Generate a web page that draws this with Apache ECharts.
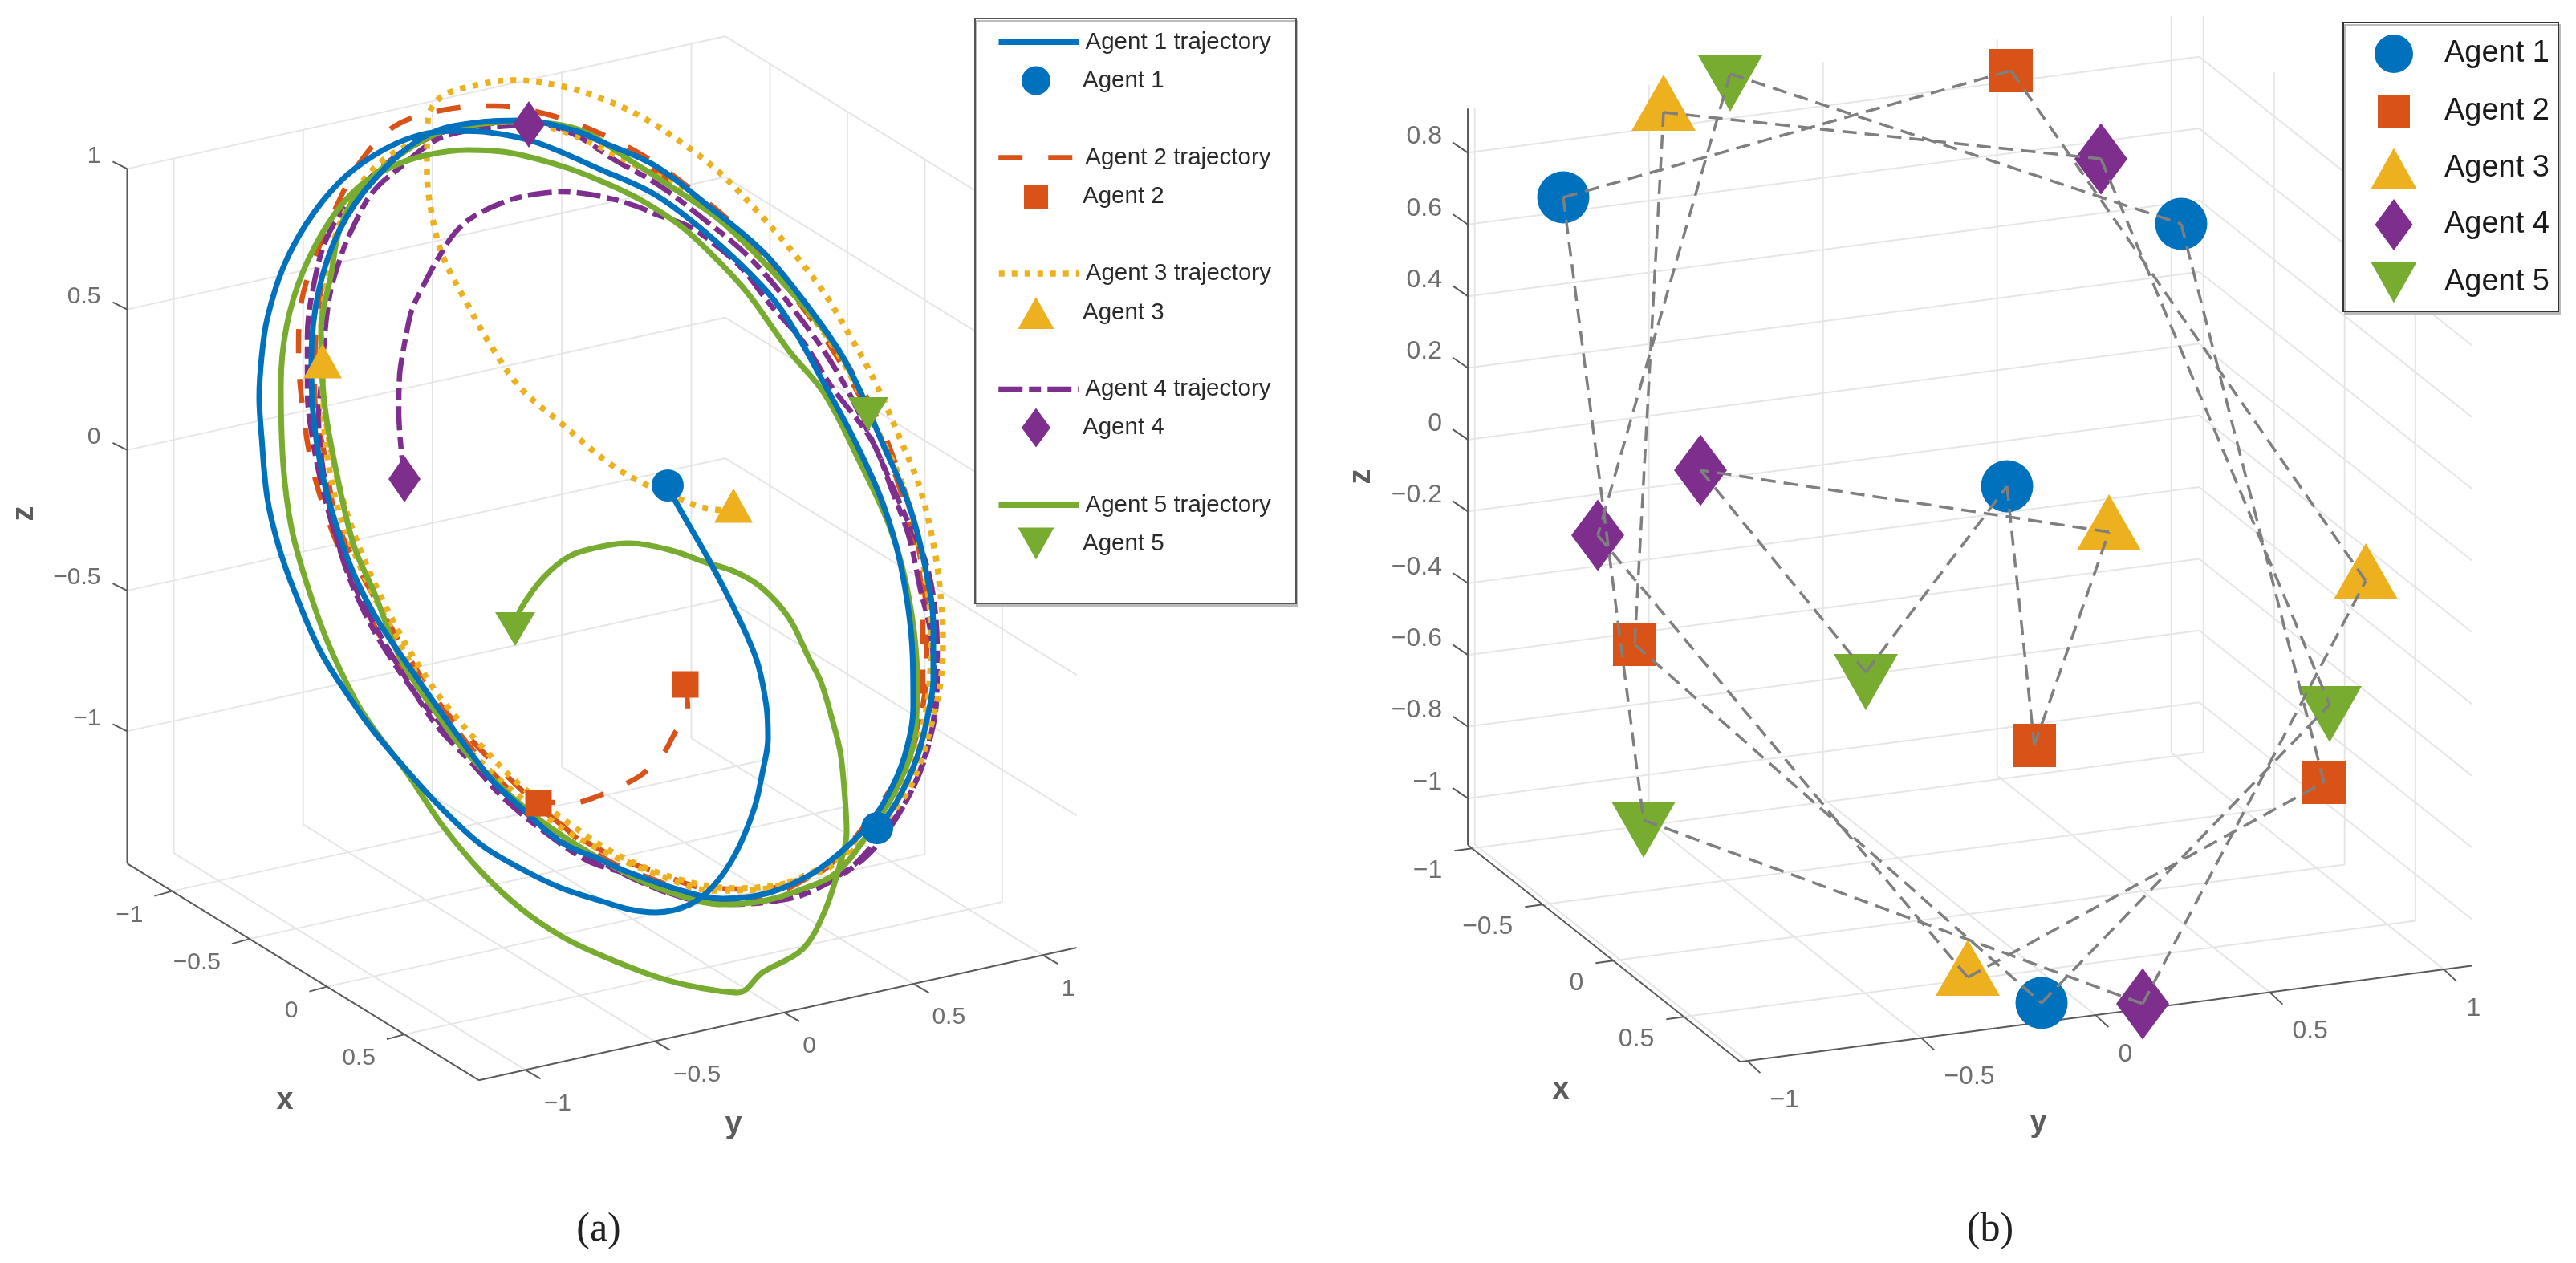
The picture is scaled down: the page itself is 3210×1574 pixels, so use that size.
<!DOCTYPE html>
<html><head><meta charset="utf-8">
<style>html,body{margin:0;padding:0;background:#fff}#c{width:3210px;height:1574px}</style>
<script src="https://cdn.jsdelivr.net/npm/echarts@6/dist/echarts.min.js"></script>
</head><body><div id="c"></div>
<script>
// Trajectories of panel (a) in view-plane units (350 units = one z-axis unit)
const agent1Path=[[44,25],[55,3],[95,-67],[129,-133],[155,-193],[167,-250],[169,-290],[162,-333],[152,-377],[129,-433],[102,-473],[72,-497],[29,-507],[-5,-503],[-38,-493],[-88,-477],[-138,-453],[-188,-423],[-238,-377],[-281,-330],[-321,-283],[-345,-250],[-388,-183],[-421,-107],[-441,-50],[-455,10],[-462,85],[-465,135],[-462,185],[-455,233],[-435,297],[-405,353],[-365,403],[-321,437],[-271,460],[-221,467],[-178,465],[-121,453],[-38,418],[29,387],[95,337],[162,273],[195,230],[239,152],[279,77],[312,3],[335,-77],[349,-183],[350,-250],[339,-313],[319,-360],[295,-397],[262,-430],[222,-460],[169,-483],[112,-490],[62,-480],[-5,-457],[-38,-442],[-88,-420],[-138,-377],[-181,-335],[-288,-187],[-321,-137],[-345,-90],[-365,-37],[-385,33],[-398,117],[-400,183],[-391,267],[-365,343],[-321,407],[-255,462],[-188,478],[-138,480],[-71,467],[-38,453],[29,423],[95,373],[162,317],[212,257],[255,197],[279,153],[312,77],[345,0],[365,-77],[375,-150],[375,-217],[370,-253],[355,-313],[329,-370],[305,-402]];
const agent2Path=[[66,-223],[69,-253],[51,-287],[38,-310],[12,-335],[-15,-350],[-45,-363],[-71,-370],[-108,-370],[-145,-360],[-188,-317],[-228,-270],[-261,-237],[-305,-178],[-333,-127],[-360,-67],[-383,-7],[-400,53],[-411,123],[-416,190],[-413,250],[-395,310],[-370,370],[-340,427],[-296,473],[-235,493],[-171,498],[-108,488],[-48,467],[12,437],[72,395],[142,335],[202,265],[252,200],[297,125],[327,55],[352,-30],[364,-105],[367,-185],[362,-250],[345,-313],[307,-375],[272,-420],[229,-460],[155,-478],[95,-477],[29,-457],[-38,-430],[-95,-393],[-148,-345],[-198,-295],[-238,-250],[-278,-190],[-335,-90],[-368,-20],[-383,60],[-396,140],[-393,230],[-380,300],[-348,380],[-298,430],[-248,460],[-168,478],[-68,465],[2,430],[72,390],[142,330],[202,260],[252,190],[297,110],[327,40],[352,-50],[362,-140],[362,-230],[342,-315],[307,-380],[272,-422],[222,-462],[155,-488],[95,-488],[29,-467],[-38,-438],[-95,-392],[-117,-371]];
const agent3Path=[[126,-7],[90,-3],[59,8],[15,27],[-28,52],[-88,102],[-138,145],[-175,197],[-205,250],[-235,308],[-248,353],[-256,417],[-255,480],[-241,507],[-211,520],[-148,530],[-85,522],[-38,507],[7,487],[62,452],[112,412],[157,365],[199,317],[239,265],[272,210],[302,155],[335,80],[359,20],[377,-58],[385,-123],[387,-170],[384,-220],[374,-267],[359,-320],[339,-363],[300,-407],[252,-447],[195,-470],[129,-477],[62,-467],[-5,-442],[-55,-413],[-138,-350],[-188,-300],[-231,-250],[-251,-223],[-288,-163],[-321,-97],[-345,-40],[-365,23],[-381,100],[-386,147],[-388,217],[-381,277],[-371,333],[-345,390],[-315,427],[-271,453],[-228,470],[-155,478],[-88,467],[2,425],[72,387],[142,325],[212,250],[262,180],[302,100],[337,25],[362,-70],[372,-160],[367,-250],[347,-320],[317,-380],[277,-425],[222,-458],[162,-478],[102,-480],[32,-460],[-38,-430],[-98,-395],[-178,-330],[-238,-263],[-288,-175],[-321,-115],[-348,-55],[-368,0],[-383,85],[-386,173]];
const agent4Path=[[-284,33],[-291,117],[-290,163],[-286,190],[-281,217],[-275,243],[-261,273],[-241,310],[-221,340],[-198,360],[-155,380],[-121,388],[-88,391],[-38,385],[5,373],[29,363],[72,347],[107,322],[137,295],[172,250],[212,205],[247,150],[299,80],[322,23],[345,-40],[359,-105],[372,-160],[377,-240],[367,-307],[342,-367],[305,-423],[272,-453],[225,-480],[195,-490],[129,-497],[45,-483],[-5,-460],[-55,-443],[-105,-410],[-158,-367],[-201,-320],[-245,-273],[-281,-217],[-315,-160],[-345,-103],[-368,-43],[-385,17],[-398,80],[-405,143],[-405,210],[-398,270],[-381,333],[-348,385],[-308,425],[-258,458],[-198,473],[-138,478],[-78,465],[-21,430],[32,400],[85,360],[145,310],[202,243],[255,167],[297,85],[339,-10],[362,-60],[375,-113],[380,-183],[379,-243],[362,-320],[337,-375],[302,-420],[267,-455],[222,-475],[162,-493],[102,-495],[32,-478],[-38,-445],[-105,-405],[-158,-360],[-213,-300],[-258,-250],[-298,-195],[-333,-135],[-363,-60],[-383,30],[-391,110],[-388,150],[-378,257],[-361,317],[-348,347],[-331,380],[-315,400],[-291,420],[-258,447],[-235,460],[-188,470],[-155,473],[-129,475]];
const agent5Path=[[-146,-147],[-138,-127],[-111,-90],[-78,-63],[-38,-51],[-5,-47],[45,-55],[89,-70],[129,-83],[162,-103],[195,-140],[220,-190],[235,-220],[248,-263],[259,-307],[264,-353],[267,-407],[257,-453],[239,-507],[212,-553],[162,-582],[132,-607],[79,-600],[29,-587],[-38,-561],[-88,-537],[-138,-503],[-188,-457],[-238,-397],[-281,-333],[-321,-280],[-345,-243],[-381,-167],[-408,-90],[-425,-27],[-435,50],[-438,150],[-431,223],[-411,290],[-378,353],[-341,397],[-298,423],[-255,437],[-205,443],[-155,440],[-88,423],[-38,404],[12,380],[62,347],[105,307],[145,263],[195,193],[239,140],[282,57],[322,-30],[345,-117],[355,-218],[352,-287],[329,-353],[295,-407],[255,-457],[212,-478],[162,-493],[112,-497],[62,-487],[-5,-460],[-115,-392],[-205,-310],[-248,-253],[-288,-193],[-321,-110],[-348,-47],[-375,73],[-385,140],[-388,217],[-375,290],[-366,340],[-348,380],[-318,415],[-258,457],[-221,470],[-155,478],[-71,470],[2,427],[55,393],[112,353],[179,287],[252,200],[294,121]];
// Agent markers of panel (b), view-plane units (447 units = one z-axis unit)
const agent1Points=[[-505,388],[265,355],[48,28],[91,-616]];
const agent2Points=[[53,546],[-416,-169],[82,-295],[443,-341]];
const agent3Points=[[-380,494],[175,-29],[495,-90],[-1,-584]];
const agent4Points=[[165,436],[-334,48],[-462,-33],[217,-617]];
const agent5Points=[[-297,542],[-128,-204],[450,-244],[-405,-388]];
// Communication links of panel (b): agent number + point letter
const links=['1A-2A','1A-5D','3A-4A','3A-2B','5A-1B','5A-4C','2A-3C','4A-5C','1B-2D','4C-3D','2B-1D','5D-4D','4D-3C','3D-2D','1D-5C','4B-5B','5B-1C','1C-2C','2C-3B','3B-4B'];
// Tick labels
const zTicksA=[1,0.5,0,-0.5,-1], xTicksA=[-1,-0.5,0,0.5], yTicksA=[-1,-0.5,0,0.5,1];
const zTicksB=[0.8,0.6,0.4,0.2,0,-0.2,-0.4,-0.6,-0.8,-1], xTicksB=[-1,-0.5,0,0.5], yTicksB=[-1,-0.5,0,0.5,1];
const agentNames=['Agent 1','Agent 2','Agent 3','Agent 4','Agent 5'];
const colors=['#0072BD','#D95319','#EDB120','#7E2F8E','#77AC30'];

const PATH={
 square:'path://M0 0H30V30H0Z',
 up:'path://M0 40L22.5 0L45 40Z',
 down:'path://M0 0L45 0L22.5 40Z',
 diamond:'path://M18 0L36 24.5L18 49L0 24.5Z'
};
const shapes=['circle',PATH.square,PATH.up,PATH.diamond,PATH.down];
const FONT='"Liberation Sans",Arial,sans-serif';
const fmt=v=>String(v).replace('-','\u2212');
const BRK=['-','-'];

// Two view definitions of the 3D boxes
const views=[
 {grid:0,px:193,py:322.5,qx:-119,qy:71.5,qz:350.5,xr:[-1.29,0.98],yr:[-1.18,1.13],zr:[-1.47,1],
  xt:xTicksA,yt:yTicksA,zt:zTicksA,fs:30,
  zTick:[-18,9],xTick:[-22,-6],yTick:[19,-11],
  zLab:[-33,16],xLab:[-36,-30],yLab:[23,-42],
  xName:[-433,-742],yName:[126,-772],zName:[-757,-10]},
 {grid:1,px:176,py:434,qx:-140,qy:57,qz:447,xr:[-1.03,0.9],yr:[-1.02,1.08],zr:[-1.13,0.923],
  xt:xTicksB,yt:yTicksB,zt:zTicksB,fs:32,
  zTick:[-19,13],xTick:[-22,-3],yTick:[16,-15],
  zLab:[-32,20],xLab:[-37,-28],yLab:[28,-49],
  xName:[-508,-725],yName:[87,-766],zName:[-756,40]}
];
const proj=(v,x,y,z)=>[v.px*x+v.py*y, v.qx*x+v.qy*y+v.qz*z];
const series=[];

function addLines(v,name,segs,color,width,z){
  const data=[];
  segs.forEach(s=>{data.push(...s,BRK);});
  series.push({type:'line',name,xAxisIndex:v.grid,yAxisIndex:v.grid,data,symbol:'none',silent:true,animation:false,z,
    connectNulls:false,clip:false,lineStyle:{color,width,cap:'butt'}});
}
function addTexts(v,items,font,align,z){
  series.push({type:'scatter',xAxisIndex:v.grid,yAxisIndex:v.grid,symbol:'circle',symbolSize:1,silent:true,animation:false,z:z||9,clip:false,
    itemStyle:{color:'rgba(0,0,0,0)'},
    data:items.map(t=>({name:t.text,value:t.pos})),
    label:{show:true,position:'inside',formatter:'{b}',align,verticalAlign:'middle',rotate:font.rotate||0,
      fontFamily:FONT,fontSize:font.size,fontWeight:font.weight||'normal',color:font.color}});
}
const shift=(p,o)=>[p[0]+o[0],p[1]+o[1]];

views.forEach(v=>{
  const [x0,x1]=v.xr,[y0,y1]=v.yr,[z0,z1]=v.zr;
  const grid=[];
  v.zt.forEach(z=>{grid.push([proj(v,x0,y0,z),proj(v,x0,y1,z)]);grid.push([proj(v,x0,y1,z),proj(v,x1,y1,z)]);});
  v.yt.forEach(y=>{grid.push([proj(v,x0,y,z0),proj(v,x0,y,z1)]);grid.push([proj(v,x0,y,z0),proj(v,x1,y,z0)]);});
  v.xt.forEach(x=>{grid.push([proj(v,x,y1,z0),proj(v,x,y1,z1)]);grid.push([proj(v,x,y0,z0),proj(v,x,y1,z0)]);});
  addLines(v,'grid',grid,'#e6e6e6',2,1);
  const ax=[[proj(v,x0,y0,z0),proj(v,x0,y0,z1)],[proj(v,x0,y0,z0),proj(v,x1,y0,z0)],[proj(v,x1,y0,z0),proj(v,x1,y1,z0)]];
  v.zt.forEach(z=>{const p=proj(v,x0,y0,z);ax.push([p,shift(p,v.zTick)]);});
  v.xt.forEach(x=>{const p=proj(v,x,y0,z0);ax.push([p,shift(p,v.xTick)]);});
  v.yt.forEach(y=>{const p=proj(v,x1,y,z0);ax.push([p,shift(p,v.yTick)]);});
  addLines(v,'axis',ax,'#5a5a5a',2,2);
  const font={size:v.fs,color:'#4a4a4a'};
  addTexts(v,v.zt.map(z=>({text:fmt(z),pos:shift(proj(v,x0,y0,z),v.zLab)})),font,'right');
  addTexts(v,v.xt.map(x=>({text:fmt(x),pos:shift(proj(v,x,y0,z0),v.xLab)})),font,'right');
  addTexts(v,v.yt.map(y=>({text:fmt(y),pos:shift(proj(v,x1,y,z0),v.yLab)})),font,'left');
  const nameFont={size:38,weight:'bold',color:'#333'};
  addTexts(v,[{text:'x',pos:v.xName},{text:'y',pos:v.yName}],nameFont,'center');
  addTexts(v,[{text:'z',pos:v.zName}],{size:38,weight:'bold',color:'#333',rotate:90},'center');
});

// Panel (a) trajectories
const paths=[agent1Path,agent2Path,agent3Path,agent4Path,agent5Path];
const dashes=['solid',[30,32],[7,9],[30,8,15,8],'solid'];
const widths=[7,6.5,7.5,6.5,7];
const trajZ=[7,3,5,4,6];
paths.forEach((p,i)=>series.push({type:'line',name:agentNames[i]+' trajectory',xAxisIndex:0,yAxisIndex:0,data:p,
  symbol:'none',showSymbol:false,smooth:0.35,silent:true,animation:false,z:trajZ[i],clip:false,
  lineStyle:{color:colors[i],width:widths[i],type:dashes[i],cap:'butt',join:'round'},itemStyle:{color:colors[i]}}));

// Markers
const sizesA=[[40,40],[33,33],[48,43],[40,58],[50,42]];
const offsetA=[[0,0],[0,0],[0,-7],[0,0],[0,7]];
const sizesB=[[65,65],[54,54],[80,70],[66,89],[80,70]];
const offsetB=[[0,0],[0,0],[0,-12],[0,0],[0,12]];
paths.forEach((p,i)=>series.push({type:'scatter',name:agentNames[i],xAxisIndex:0,yAxisIndex:0,
  data:[p[0],p[p.length-1]],symbol:shapes[i],symbolSize:sizesA[i],symbolKeepAspect:false,symbolOffset:offsetA[i],
  silent:true,animation:false,z:10,clip:false,itemStyle:{color:colors[i],opacity:1}}));
const pointSets=[agent1Points,agent2Points,agent3Points,agent4Points,agent5Points];
pointSets.forEach((p,i)=>series.push({type:'scatter',name:agentNames[i],xAxisIndex:1,yAxisIndex:1,
  data:p,symbol:shapes[i],symbolSize:sizesB[i],symbolKeepAspect:false,symbolOffset:offsetB[i],
  silent:true,animation:false,z:10,clip:false,itemStyle:{color:colors[i],opacity:1}}));

// Links of panel (b)
const pt=s=>pointSets[+s[0]-1]['ABCD'.indexOf(s[1])];
const linkData=[];
links.forEach(l=>{const [a,b]=l.split('-');linkData.push(pt(a),pt(b),BRK);});
series.push({type:'line',name:'links',xAxisIndex:1,yAxisIndex:1,data:linkData,symbol:'none',silent:true,animation:false,z:11,clip:false,
  connectNulls:false,lineStyle:{color:'#7f7f7f',width:3.5,type:[18,10],cap:'butt'}});

// Legends: the library anchors a legend on the drawn icon, so each left comes from the icon centre and width
const legends=[];
const legA=29.5, legB=38;
const lineY=[52.5,196.5,341,485,629.5], markY=[100.5,245,390,533,677.5];
const iconH=[36,30,40,49,40], iconW=[36,30,45,36,45];
agentNames.forEach((n,i)=>{
  legends.push({orient:'vertical',left:1241,top:lineY[i]-15,itemWidth:100,itemHeight:30,padding:0,selectedMode:false,z:20,
    data:[{name:n+' trajectory'}],textStyle:{fontFamily:FONT,fontSize:legA,color:'#2a2a2a',padding:[0,0,0,3]},
    itemStyle:{color:'rgba(0,0,0,0)',borderWidth:0,opacity:0},
    lineStyle:{color:colors[i],width:widths[i],type:dashes[i],cap:'butt'}});
  legends.push({orient:'vertical',left:1291-iconW[i]/2,top:markY[i]-iconH[i]/2,itemWidth:100,itemHeight:iconH[i],padding:0,selectedMode:false,z:20,
    data:[{name:n,icon:shapes[i],itemStyle:{color:colors[i],opacity:1}}],textStyle:{fontFamily:FONT,fontSize:legA,color:'#2a2a2a',padding:[0,0,0,3]}});
});
const yB=[67,139,210,280,352], hB=[48,40,51,64,51], wB=[48,40,57.4,47,57.4];
agentNames.forEach((n,i)=>{
  legends.push({orient:'vertical',left:2983-wB[i]/2,top:yB[i]-hB[i]/2,itemWidth:116,itemHeight:hB[i],padding:0,selectedMode:false,z:20,
    data:[{name:n,icon:shapes[i],itemStyle:{color:colors[i],opacity:1}}],textStyle:{fontFamily:FONT,fontSize:legB,color:'#1a1a1a'}});
});

const box=(x,y,w,h,c)=>({type:'rect',z:15,silent:true,shape:{x,y,width:w,height:h},
  style:{fill:'#fff',stroke:c,lineWidth:2,shadowColor:'#bbb',shadowOffsetX:2,shadowOffsetY:3,shadowBlur:0}});
const cap=(t,x)=>({type:'text',z:15,silent:true,x,y:1533,style:{text:t,fontFamily:'"Liberation Serif","Times New Roman",serif',fontSize:50,fill:'#222',textAlign:'center',textVerticalAlign:'middle'}});

const chart=echarts.init(document.getElementById('c'),null,{renderer:'canvas'});
const hidden={type:'value',show:false,scale:true,splitLine:{show:false}};
chart.setOption({
  animation:false,backgroundColor:'#fff',
  grid:[{left:0,top:0,width:1605,height:1574},{left:1605,top:0,width:1605,height:1574}],
  xAxis:[{...hidden,gridIndex:0,min:-788,max:817},{...hidden,gridIndex:1,min:-848,max:757}],
  yAxis:[{...hidden,gridIndex:0,min:-944,max:630},{...hidden,gridIndex:1,min:-940,max:634}],
  legend:legends,
  graphic:{elements:[box(1215,23,400,729,'#555'),box(2920,28,268,360,'#333'),cap('(a)',746),cap('(b)',2480)]},
  series
});
</script></body></html>
